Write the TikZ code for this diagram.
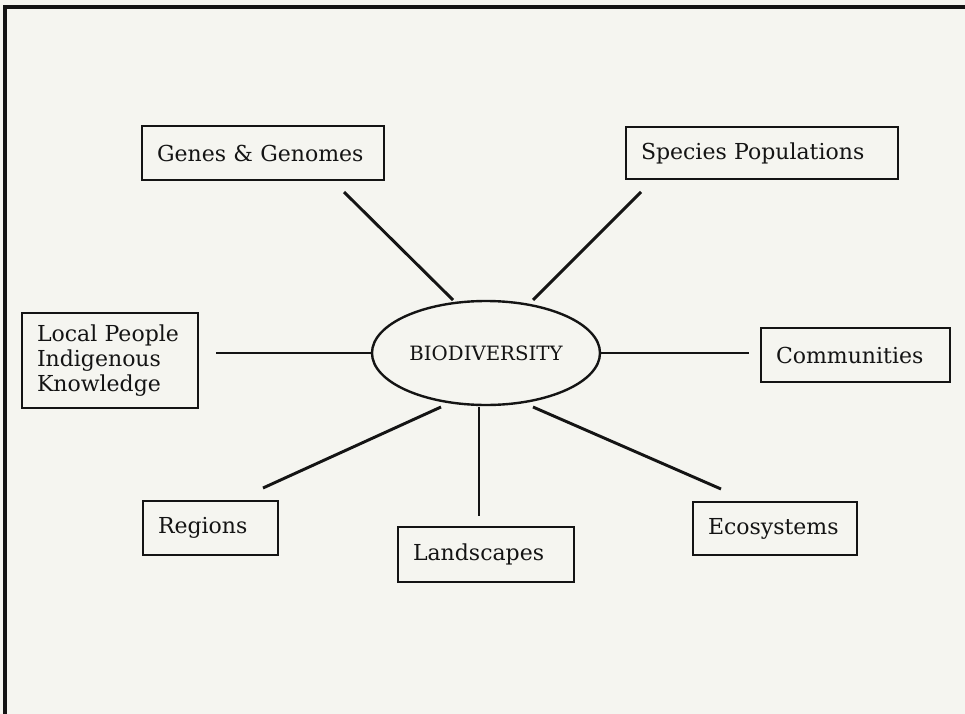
\documentclass[tikz,border=0pt]{standalone}
\usepackage{fontspec}
\setmainfont{DejaVu Serif}
\usetikzlibrary{shapes.geometric}
\definecolor{paper}{HTML}{F5F5F0}
\definecolor{ink}{HTML}{141414}
\begin{document}
\begin{tikzpicture}[x=0.75pt,y=-0.75pt,
  boxnode/.style={draw=ink,line width=1.7pt,inner xsep=11.25pt,inner ysep=0pt,
    font=\fontsize{16.5}{19}\selectfont,text=ink,align=left},
  spoke/.style={draw=ink,line width=2.2pt},
  frame/.style={draw=ink,line width=2.4pt}]
\fill[paper] (0,0) rectangle (965,714);
\useasboundingbox (0,0) rectangle (965,714);
\coordinate (ftl) at (5,7);
\coordinate (ftr) at (965,7);
\coordinate (fbl) at (5,714);
\draw[frame] (ftr) -- (ftl) -- (fbl);

\node[boxnode,text width=212*0.75pt,minimum height=54*0.75pt] (genes) at (263,153) {Genes \& Genomes};
\node[boxnode,text width=242*0.75pt,minimum height=52*0.75pt] (species) at (762,153) {Species Populations};
\node[boxnode,text width=146*0.75pt,minimum height=95*0.75pt] (local) at (110,360.5) {Local People\\Indigenous\\Knowledge};
\node[boxnode,text width=159*0.75pt,minimum height=54*0.75pt] (comm) at (855.5,355) {Communities};
\node[boxnode,text width=105*0.75pt,minimum height=54*0.75pt] (regions) at (210.5,528) {Regions};
\node[boxnode,text width=146*0.75pt,minimum height=55*0.75pt] (land) at (486,554.5) {Landscapes};
\node[boxnode,text width=134*0.75pt,minimum height=53*0.75pt] (eco) at (775,528.5) {Ecosystems};
\node[ellipse,draw=ink,line width=1.8pt,minimum width=228*0.75pt,minimum height=104*0.75pt,inner sep=0pt,font=\fontsize{14.8}{17}\selectfont,text=ink] (bio) at (486,353) {BIODIVERSITY};

\coordinate (g1) at (344,192);
\coordinate (g2) at (453,300);
\coordinate (s1) at (641,192);
\coordinate (s2) at (533,300);
\coordinate (l1) at (216,353);
\coordinate (l2) at (372,353);
\coordinate (c1) at (600,353);
\coordinate (c2) at (749,353);
\coordinate (r1) at (263,488);
\coordinate (r2) at (441,407);
\coordinate (d1) at (479,407);
\coordinate (d2) at (479,516);
\coordinate (e1) at (533,407);
\coordinate (e2) at (721,489);
\draw[spoke] (g1) -- (g2);
\draw[spoke] (s1) -- (s2);
\draw[spoke] (l1) -- (l2);
\draw[spoke] (c1) -- (c2);
\draw[spoke] (r1) -- (r2);
\draw[spoke] (d1) -- (d2);
\draw[spoke] (e1) -- (e2);
\end{tikzpicture}
\end{document}
